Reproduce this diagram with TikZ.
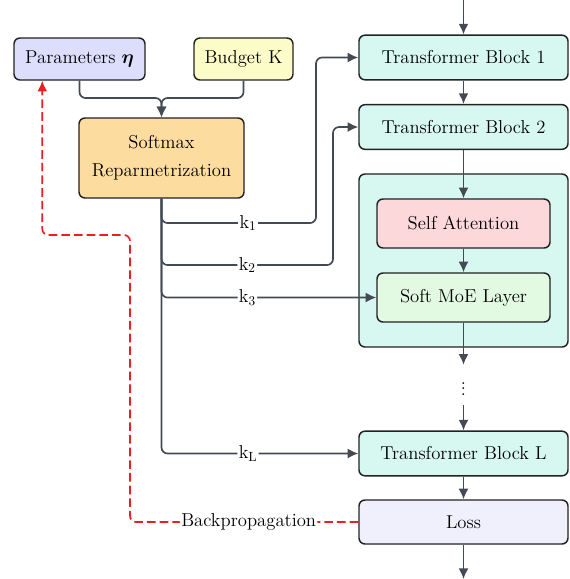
\documentclass[tikz,border=0pt]{standalone}
\usepackage{amsmath}
\usetikzlibrary{calc,arrows.meta}
\definecolor{trait}{HTML}{222222}
\definecolor{lien}{HTML}{434A54}
\definecolor{rouge}{HTML}{E8201E}
\definecolor{cParam}{HTML}{DDDDFC}
\definecolor{cBudget}{HTML}{FCFCC8}
\definecolor{cSoft}{HTML}{FDDCA0}
\definecolor{cBloc}{HTML}{D6F8F0}
\definecolor{cAtt}{HTML}{FDD8DA}
\definecolor{cMoe}{HTML}{E2F9E2}
\definecolor{cLoss}{HTML}{F0F0FC}
\newcommand\texte{\fontsize{14}{21}\selectfont}

\begin{document}
\begin{tikzpicture}[x=0.75pt,y=-0.75pt,inner sep=2pt,
    bloc/.style={draw=trait,line width=1.1pt,rounded corners=4.5pt,align=center,font=\texte},
    large/.style={bloc,minimum width=156.75pt,minimum height=33.5pt},
    fleche/.style={-{Latex[length=8pt,width=7.5pt]},draw=lien,line width=1.25pt,rounded corners=4.5pt},
    retour/.style={-{Latex[length=8pt,width=7.5pt]},draw=rouge,line width=1.25pt,dash pattern=on 6.5pt off 3pt,rounded corners=4.5pt},
    etiq/.style={fill=white,inner sep=1pt,font=\texte}]
    % cadre
    \useasboundingbox (0,0) rectangle (570,579);
    % blocs de gauche
    \node[bloc,fill=cParam,minimum width=98.25pt,minimum height=31.5pt] (param) at (79.5,59) {Parameters $\boldsymbol{\eta}$};
    \node[bloc,fill=cBudget,minimum width=74.25pt,minimum height=31.5pt] (budget) at (243.5,59) {Budget K};
    \node[bloc,fill=cSoft,minimum width=123.75pt,minimum height=60pt] (softmax) at (161.5,158) {Softmax\\Reparmetrization};
    % blocs transformer
    \node[large,fill=cBloc] (tb1) at (463.5,57.5) {Transformer Block 1};
    \node[large,fill=cBloc] (tb2) at (463.5,127) {Transformer Block 2};
    \node[large,fill=cBloc,minimum height=129.75pt] (couche) at (463.5,260.5) {};
    \node[bloc,fill=cAtt,minimum width=129.75pt,minimum height=36.75pt] (sa) at (463.5,223.5) {Self Attention};
    \node[bloc,fill=cMoe,minimum width=129.75pt,minimum height=36.75pt] (moe) at (463.5,297.5) {Soft MoE Layer};
    \node[inner sep=0pt,minimum height=30pt,font=\texte] (dots) at (463.5,385) {$\vdots$};
    \node[large,fill=cBloc] (tbL) at (463.5,453.5) {Transformer Block L};
    \node[large,fill=cLoss,minimum height=33pt] (loss) at (463.5,522) {Loss};
    \coordinate (entree) at (463.5,0);
    \coordinate (sortie) at (463.5,579);
    \coordinate (fusion) at (161.5,98);
    % flux principal
    \draw[fleche] (entree) -- (tb1);
    \draw[fleche] (tb1) -- (tb2);
    \draw[fleche] (tb2) -- (sa);
    \draw[fleche] (sa) -- (moe);
    \draw[fleche] (moe) -- (dots);
    \draw[fleche] (dots) -- (tbL);
    \draw[fleche] (tbL) -- (loss);
    \draw[fleche] (loss) -- (sortie);
    % parametres et budget
    \draw[fleche] (param.south) |- (fusion) -- (softmax.north);
    \draw[fleche] (budget.south) |- (fusion) -- (softmax.north);
    % budgets par bloc
    \draw[fleche] (softmax.south) |- node[etiq,pos=0.78] {k$_1$} (316,223) |- (tb1.west);
    \draw[fleche] (softmax.south) |- node[etiq,pos=0.75] {k$_2$} (333,265) |- (tb2.west);
    \draw[fleche] (softmax.south) |- node[etiq,pos=0.70] {k$_3$} (moe.west);
    \draw[fleche] (softmax.south) |- node[etiq,pos=0.72] {k$_\mathrm{L}$} (tbL.west);
    % retropropagation
    \draw[retour] (loss.west) -| node[etiq,pos=0.24] {Backpropagation} (130,235) -| ($(param.south west)+(29,0)$);
\end{tikzpicture}
\end{document}
